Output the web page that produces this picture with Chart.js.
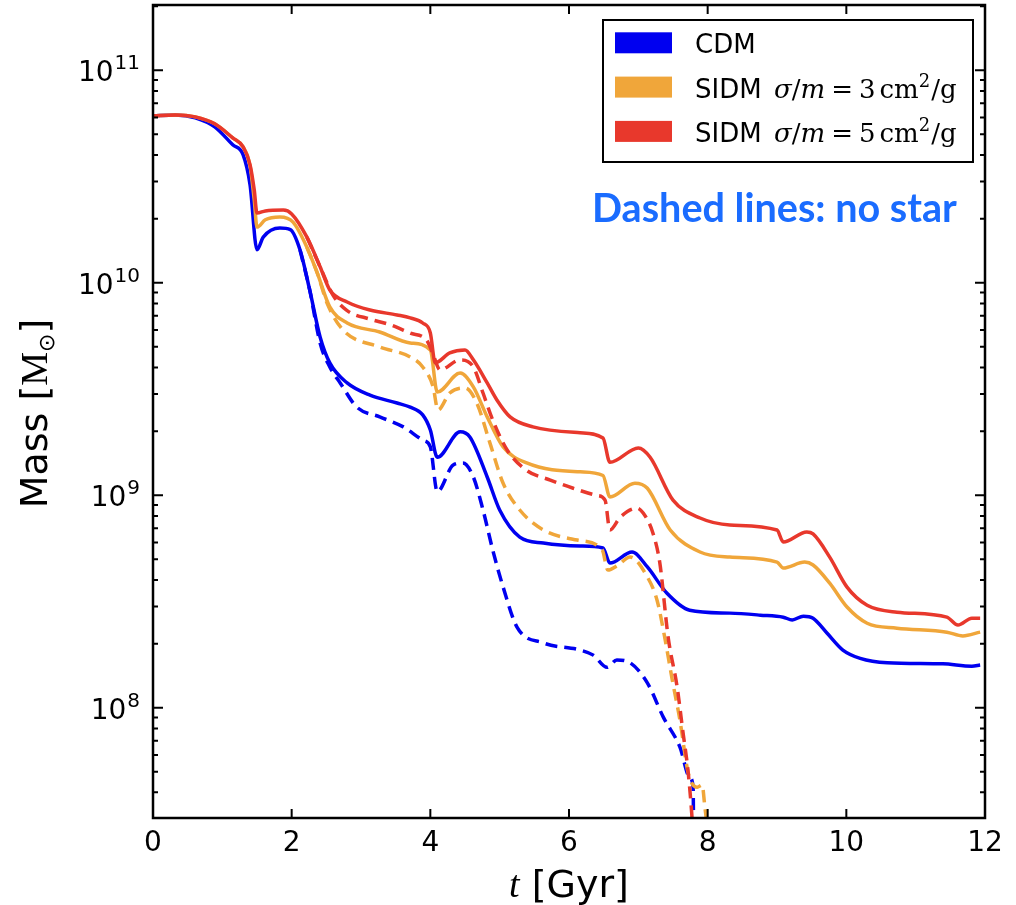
<!DOCTYPE html>
<html><head><meta charset="utf-8">
<script src="https://cdn.jsdelivr.net/npm/chart.js@4/dist/chart.umd.min.js"></script>
<style>html,body{margin:0;padding:0;background:#fff;}canvas{display:block;}</style>
</head><body>
<canvas id="c" width="1016" height="905"></canvas>
<script>
// ---- data (t in Gyr, mass in solar masses) ----
const cdmT  = [0,0.32,0.61,0.89,1.15,1.30,1.40,1.50,1.59,1.83,1.98,2.12,2.26,2.41,2.55,2.80,3.13,3.52,3.71,3.89,4.00,4.10,4.43,4.57,4.82,5.00,5.29,5.63,6.16,6.49,6.59,6.91,7.13,7.41,7.74,8.32,8.76,9.09,9.22,9.38,9.52,9.72,9.95,10.20,10.59,11.39,11.81,11.93];
const cdmM  = [6.11e10,6.17e10,5.98e10,5.42e10,4.46e10,4.00e10,2.89e10,1.43e10,1.64e10,1.81e10,1.78e10,1.43e10,9.26e9,5.56e9,4.20e9,3.38e9,2.96e9,2.72e9,2.60e9,2.39e9,2.03e9,1.51e9,1.99e9,1.88e9,1.22e9,8.53e8,6.36e8,5.96e8,5.77e8,5.65e8,4.80e8,5.41e8,4.60e8,3.47e8,2.88e8,2.79e8,2.73e8,2.67e8,2.59e8,2.70e8,2.64e8,2.25e8,1.87e8,1.71e8,1.63e8,1.61e8,1.57e8,1.59e8];
const sidm3T = [0,0.32,0.61,0.89,1.15,1.30,1.40,1.46,1.50,1.62,1.83,2.02,2.22,2.37,2.55,2.80,3.27,3.71,4.00,4.10,4.43,4.62,4.82,5.05,5.39,6.16,6.49,6.59,6.95,7.13,7.46,7.89,8.32,9.00,9.09,9.40,9.52,9.76,10.01,10.30,10.73,11.45,11.68,11.93];
const sidm3M = [6.11e10,6.17e10,6.04e10,5.60e10,4.81e10,4.36e10,3.55e10,2.46e10,1.83e10,1.98e10,2.04e10,1.93e10,1.47e10,1.11e10,7.70e9,6.47e9,5.87e9,5.21e9,4.83e9,3.06e9,3.76e9,3.24e9,2.34e9,1.69e9,1.42e9,1.29e9,1.24e9,9.82e8,1.14e9,1.08e9,6.87e8,5.41e8,5.12e8,4.85e8,4.55e8,4.85e8,4.70e8,3.86e8,2.98e8,2.50e8,2.37e8,2.27e8,2.18e8,2.27e8];
const sidm5T = [0,0.32,0.61,0.89,1.15,1.30,1.40,1.46,1.50,1.62,1.88,2.00,2.22,2.41,2.55,2.80,3.13,3.52,3.71,3.89,4.00,4.07,4.28,4.50,4.62,4.82,4.96,5.15,5.48,6.16,6.49,6.59,7.00,7.17,7.50,7.89,8.32,9.00,9.09,9.43,9.52,9.76,10.01,10.30,10.73,11.45,11.61,11.81,11.93];
const sidm5M = [6.11e10,6.17e10,6.04e10,5.60e10,4.81e10,4.36e10,3.59e10,2.74e10,2.13e10,2.18e10,2.20e10,2.11e10,1.64e10,1.19e10,9.26e9,8.13e9,7.45e9,7.06e9,6.84e9,6.47e9,5.81e9,4.20e9,4.68e9,4.83e9,4.34e9,3.38e9,2.81e9,2.34e9,2.10e9,1.97e9,1.86e9,1.43e9,1.67e9,1.51e9,9.50e8,7.82e8,7.25e8,6.87e8,6.03e8,6.72e8,6.58e8,5.12e8,3.70e8,3.04e8,2.82e8,2.67e8,2.45e8,2.64e8,2.64e8];
// "no star" runs (dashed)
const cdmNsT = [2.12,2.26,2.41,2.55,2.70,2.94,3.27,3.61,3.89,4.00,4.10,4.33,4.47,4.62,4.76,4.90,5.05,5.25,5.63,6.16,6.35,6.55,6.69,6.88,7.13,7.36,7.60,7.74,7.79,7.80];
const cdmNsM = [1.43e10,9.26e9,5.21e9,4.02e9,3.38e9,2.60e9,2.34e9,2.10e9,1.82e9,1.69e9,1.04e9,1.39e9,1.42e9,1.22e9,8.53e8,5.53e8,3.70e8,2.40e8,2.02e8,1.87e8,1.77e8,1.55e8,1.68e8,1.63e8,1.31e8,9.04e7,6.53e7,4.71e7,4.23e7,2.0e7];
const sidm3NsT = [2.22,2.37,2.51,2.74,3.27,3.71,3.89,4.04,4.11,4.28,4.50,4.67,4.86,5.05,5.29,5.63,6.12,6.48,6.56,6.71,6.88,7.13,7.27,7.38,7.49,7.60,7.72,7.85,7.92,7.96,8.01];
const sidm3NsM = [1.47e10,1.11e10,8.04e9,6.00e9,4.99e9,4.48e9,4.02e9,3.24e9,2.52e9,3.03e9,3.20e9,2.72e9,1.76e9,1.14e9,8.53e8,6.87e8,6.16e8,5.53e8,4.45e8,4.70e8,5.12e8,4.13e8,3.21e8,2.15e8,1.35e8,8.75e7,4.93e7,4.23e7,4.33e7,3.41e7,2.5e7];
const sidm5NsT = [2.22,2.41,2.60,2.80,3.13,3.42,3.71,3.95,4.04,4.14,4.43,4.62,4.76,4.90,5.11,5.39,5.73,6.06,6.40,6.52,6.59,6.74,6.98,7.07,7.21,7.31,7.43,7.56,7.64,7.72,7.77,7.79];
const sidm5NsM = [1.64e10,1.19e10,8.70e9,7.40e9,6.75e9,6.35e9,5.80e9,5.35e9,4.60e9,3.89e9,4.34e9,4.02e9,3.03e9,2.26e9,1.63e9,1.31e9,1.18e9,1.08e9,1.00e9,9.50e8,6.87e8,7.90e8,8.71e8,8.25e8,6.65e8,4.80e8,2.15e8,1.25e8,7.85e7,4.93e7,3.19e7,2.5e7];

// ticks / labels
const xTicks = [0,2,4,6,8,10,12];
const yTickExps = [8,9,10,11];
const legendNames = ['CDM','SIDM','SIDM'];
const legendSigma = [null,3,5];
const noteText = 'Dashed lines: no star';

const C_CDM = '#0000f0', C_S3 = '#f0a63a', C_S5 = '#e8382c', C_NOTE = '#1a6cff';

const pts = (T,M) => T.map((t,i)=>({x:t,y:M[i]}));
const ds = (T,M,color,dashed) => ({data:pts(T,M),borderColor:color,backgroundColor:color,borderWidth:3.5,
  borderDash: dashed?[12,7]:[], borderJoinStyle:'round', pointRadius:0, fill:false,
  cubicInterpolationMode:'monotone', clip:0});

const frame = {
  id:'frame',
  afterDraw(chart){
    const {ctx, chartArea:a, scales:{x,y}} = chart;
    ctx.save();
    // inward ticks
    ctx.strokeStyle='#000'; ctx.lineWidth=2;
    ctx.beginPath();
    for (const v of xTicks){ const px=x.getPixelForValue(v);
      ctx.moveTo(px,a.bottom); ctx.lineTo(px,a.bottom-9);
      ctx.moveTo(px,a.top); ctx.lineTo(px,a.top+9); }
    for (let e=7;e<=11;e++) for (let m=1;m<=9;m++){
      const v=m*Math.pow(10,e); if (v<y.min||v>y.max) continue;
      const py=y.getPixelForValue(v); const L=(m===1)?10:5;
      ctx.moveTo(a.left,py); ctx.lineTo(a.left+L,py);
      ctx.moveTo(a.right,py); ctx.lineTo(a.right-L,py); }
    ctx.stroke();
    ctx.lineWidth=2.5; ctx.strokeRect(a.left,a.top,a.right-a.left,a.bottom-a.top);
    // y tick labels 10^n
    ctx.fillStyle='#000'; ctx.textBaseline='alphabetic';
    for (const e of yTickExps){
      const py=y.getPixelForValue(Math.pow(10,e));
      ctx.font='20px "DejaVu Sans"'; ctx.textAlign='right';
      const ew=ctx.measureText(String(e)).width;
      ctx.fillText(String(e),140,py-1);
      ctx.font='28px "DejaVu Sans"';
      ctx.fillText('10',140-ew-1,py+11);
    }
    // x axis title: t [Gyr]
    ctx.textAlign='left';
    ctx.font='italic 38px "Liberation Serif"'; const wt=ctx.measureText('t').width;
    ctx.font='38px "DejaVu Sans"'; const wr=ctx.measureText(' [Gyr]').width;
    let sx=(a.left+a.right)/2 - (wt+wr)/2;
    ctx.font='italic 38px "Liberation Serif"'; ctx.fillText('t',sx,897);
    ctx.font='38px "DejaVu Sans"'; ctx.fillText(' [Gyr]',sx+wt,897);
    // y axis title: Mass [M_sun]
    ctx.save(); ctx.translate(47,(a.top+a.bottom)/2+2); ctx.rotate(-Math.PI/2);
    const parts=[['Mass [','38px "DejaVu Sans"',0],['M','38px "Liberation Serif"',0],['\u2299','22px "DejaVu Sans"',7],[']','38px "DejaVu Sans"',0]];
    let tw=0; for (const p of parts){ctx.font=p[1]; tw+=ctx.measureText(p[0]).width;}
    let cx=-tw/2;
    for (const p of parts){ctx.font=p[1]; ctx.fillText(p[0],cx,p[2]); cx+=ctx.measureText(p[0]).width;}
    ctx.restore();
    // legend
    const lx=603, ly=20, lw=370, lh=142;
    ctx.fillStyle='#fff'; ctx.fillRect(lx,ly,lw,lh);
    ctx.lineWidth=2; ctx.strokeStyle='#000'; ctx.strokeRect(lx,ly,lw,lh);
    const cols=[C_CDM,C_S3,C_S5];
    for (let i=0;i<3;i++){
      const base=53.3+44.3*i;
      ctx.fillStyle=cols[i]; ctx.fillRect(615,base-21,57,21);
      ctx.fillStyle='#000'; ctx.font='26px "DejaVu Sans"'; ctx.textAlign='left';
      ctx.fillText(legendNames[i],695,base);
      if (legendSigma[i]!==null){
        let px=774;
        const seg=(txt,font,dy,gapAfter)=>{ctx.font=font; ctx.fillText(txt,px,base+dy); px+=ctx.measureText(txt).width+(gapAfter||0);};
        const R='26px "DejaVu Serif"', I='italic 26px "DejaVu Serif"';
        seg('\u03c3',I,0); seg('/',R,0); seg('m',I,0,6); seg('=',R,0,6);
        seg(String(legendSigma[i]),R,0,4); seg('cm',R,0); seg('2','18px "DejaVu Serif"',-11,1); seg('/',R,0); seg('g',R,0);
      }
    }
    // annotation
    ctx.fillStyle=C_NOTE; ctx.font='bold 100px Lato';
    const nw=ctx.measureText(noteText).width; const fs=100*365/nw;
    ctx.font='bold '+fs.toFixed(1)+'px Lato'; ctx.fillText(noteText,592,222);
    ctx.restore();
  }
};

new Chart(document.getElementById('c').getContext('2d'), {
  type:'line',
  data:{datasets:[
    ds(sidm5NsT,sidm5NsM,C_S5,true),
    ds(sidm5T,sidm5M,C_S5,false),
    ds(sidm3NsT,sidm3NsM,C_S3,true),
    ds(sidm3T,sidm3M,C_S3,false),
    ds(cdmNsT,cdmNsM,C_CDM,true),
    ds(cdmT,cdmM,C_CDM,false)
  ]},
  options:{
    responsive:false, animation:false, events:[],
    layout:{padding:{top:5,right:31,left:0,bottom:0}},
    plugins:{legend:{display:false}, tooltip:{enabled:false}},
    scales:{
      x:{type:'linear', min:0, max:12,
         afterBuildTicks:s=>{s.ticks=xTicks.map(v=>({value:v}));},
         ticks:{font:{family:'DejaVu Sans',size:28}, color:'#000', padding:9, maxRotation:0, autoSkip:false, callback:v=>String(v)},
         grid:{display:false, drawTicks:false}, border:{display:false},
         afterFit:s=>{s.height=87;}},
      y:{type:'logarithmic', min:3.03e7, max:2.03e11,
         ticks:{display:false}, grid:{display:false, drawTicks:false}, border:{display:false},
         afterFit:s=>{s.width=153;}}
    }
  },
  plugins:[frame]
});
</script>
</body></html>
